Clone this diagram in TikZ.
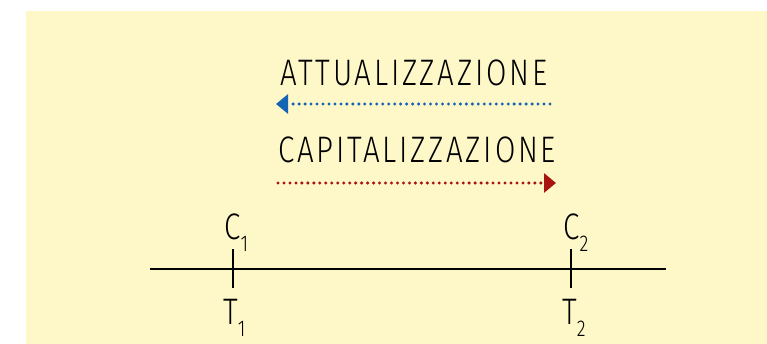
\documentclass[tikz,border=0pt]{standalone}
\usepackage{fontspec}
\usetikzlibrary{arrows.meta}
\newfontfamily\handfont[FakeStretch=0.8,LetterSpace=7.5]{Fira Sans Light}
\newcommand\sublabel[2]{#1\raisebox{-7pt}{\fontsize{13}{13}\selectfont #2}}
\definecolor{paper}{HTML}{FEF7C8}
\definecolor{discblue}{HTML}{1565B5}
\definecolor{capred}{HTML}{A8140F}

\begin{document}
\begin{tikzpicture}[x=0.02cm,y=-0.02cm,
  lbl/.style={font=\handfont\fontsize{21}{21}\selectfont,inner sep=0pt},
  dotarrow/.style={line width=1.9pt,line cap=round,dash pattern=on 0pt off 3.4pt,
    -{Triangle[length=0.24cm,width=0.38cm]}}]
\useasboundingbox (0,0) rectangle (767,344);
\fill[paper] (26,11) rectangle (767,344);
% titles and arrows
\node[lbl,anchor=base west] (att) at (280,86) {ATTUALIZZAZIONE};
\node[lbl,anchor=base west] (cap) at (278,163) {CAPITALIZZAZIONE};
\coordinate (attL) at (276,104);
\coordinate (attR) at (550,104);
\coordinate (capL) at (278,183);
\coordinate (capR) at (556,183);
\draw[dotarrow,discblue] (attR) -- (attL);
\draw[dotarrow,capred] (capL) -- (capR);
% time axis
\coordinate (axL) at (150,269);
\coordinate (axR) at (666,269);
\draw[line width=1.2pt] (axL) -- (axR);
\coordinate (t1) at (233,269);
\coordinate (t2) at (571,269);
\draw[line width=0.7pt] (t1) ++(0,-20) -- ++(0,39);
\draw[line width=0.7pt] (t2) ++(0,-20) -- ++(0,39);
\node[lbl,anchor=base west] (c1) at (224,239) {\sublabel{C}{1}};
\node[lbl,anchor=base west] (c2) at (563,239) {\sublabel{C}{2}};
\node[lbl,anchor=base west] (T1) at (223,324) {\sublabel{T}{1}};
\node[lbl,anchor=base west] (T2) at (562,324) {\sublabel{T}{2}};
\end{tikzpicture}
\end{document}
